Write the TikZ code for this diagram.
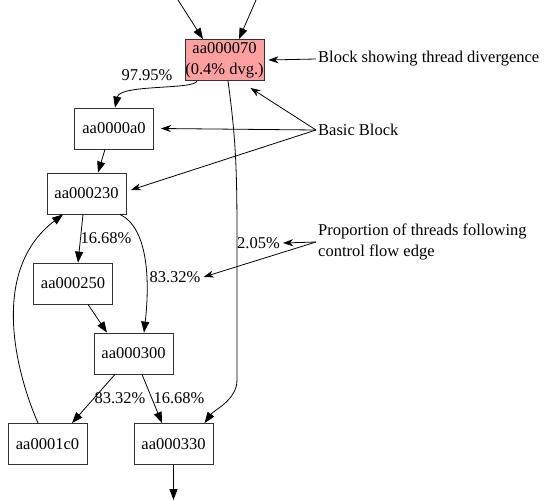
\documentclass[tikz,border=0pt]{standalone}
\usepackage{fontspec}
\setmainfont{Liberation Serif}
\usetikzlibrary{arrows.meta}
\definecolor{dvgred}{RGB}{255,160,160}
\definecolor{boxline}{RGB}{50,50,50}
\tikzset{
    block/.style={draw=boxline,line width=.8pt,minimum width=79pt,minimum height=41pt,inner sep=0,align=center},
    edge/.style={draw,line width=.8pt,-{Triangle[length=11pt,width=8pt]}},
    note/.style={draw,line width=.8pt,-{Stealth[length=10pt,width=7pt,inset=3pt]}},
    pct/.style={inner sep=1pt}
}
\begin{document}
\begin{tikzpicture}[x=1pt,y=-1pt]
\fontsize{16.5}{21}\selectfont
\useasboundingbox (0,0) rectangle (544,501);
%blocks
\node[block,fill=dvgred] (n070) at (224.5,60){aa000070\\(0.4\% dvg.)};
\foreach \n/\x/\y in {0a0/114/128.5, 230/86.5/193.5, 250/73/283.5, 300/133.5/353.5, 1c0/47.5/444, 330/173.5/444}{
    \node[block] (n\n) at (\x,\y){aa000\n};
}
\coordinate (in1) at (178,0);
\coordinate (in2) at (256,0);
\coordinate (out) at (173.5,500);
%edges
\path[edge] (in1) -- ([xshift=-21.5pt]n070.north);
\path[edge] (in2) -- ([xshift=14.5pt]n070.north);
\path[edge] ([xshift=-27.5pt]n070.south) .. controls (195,90) and (120,84) .. ([xshift=1pt]n0a0.north);
\path[edge] ([xshift=3.5pt]n070.south) .. controls (236,140) and (237,170) .. (237,240) -- (237,380) .. controls (237,400) and (214,410) .. ([xshift=31pt]n330.north);
\path[edge] ([xshift=-9pt]n0a0.south) -- ([xshift=11.5pt]n230.north);
\path[edge] ([xshift=-3.5pt]n230.south) -- ([xshift=5pt]n250.north);
\path[edge] ([xshift=33.5pt]n230.south) .. controls (148,228) and (150,280) .. ([xshift=10.5pt]n300.north);
\path[edge] ([xshift=15pt]n250.south) -- ([xshift=-26.5pt]n300.north);
\path[edge] ([xshift=-18.5pt]n300.south) -- ([xshift=24.5pt]n1c0.north);
\path[edge] ([xshift=8.5pt]n300.south) -- ([xshift=-11.5pt]n330.north);
\path[edge] ([xshift=-9.5pt]n1c0.north) .. controls (15,370) and (-10,270) .. ([xshift=-23.5pt]n230.south);
\path[edge] (n330.south) -- (out);
%labels
\node[pct] (p9795) at (147,75){97.95\%};
\node[pct,anchor=west] (p205) at (236,243){2.05\%};
\node[pct] (p1668a) at (106,238){16.68\%};
\node[pct] (p8332a) at (175,277){83.32\%};
\node[pct] (p8332b) at (120,398){83.32\%};
\node[pct] (p1668b) at (179,398){16.68\%};
%notes
\node[anchor=west,inner sep=2pt] (tdvg) at (316,59){Block showing thread divergence};
\node[anchor=west,inner sep=2pt] (tbb) at (316,130){Basic Block};
\node[anchor=west,inner sep=2pt,align=left] (tprop) at (316,242){Proportion of threads following\\control flow edge};
\path[note] (tdvg.west) -- ([xshift=4pt]n070.east);
\path[note] (tbb.west) -- ([xshift=-14pt,yshift=-7pt]n070.south east);
\path[note] (tbb.west) -- ([xshift=7pt]n0a0.east);
\path[note] (tbb.west) -- ([xshift=4.5pt,yshift=3.5pt]n230.east);
\path[note] (tprop.west) -- ([xshift=2pt]p205.east);
\path[note] (tprop.west) -- ([xshift=2pt]p8332a.east);
\end{tikzpicture}
\end{document}
